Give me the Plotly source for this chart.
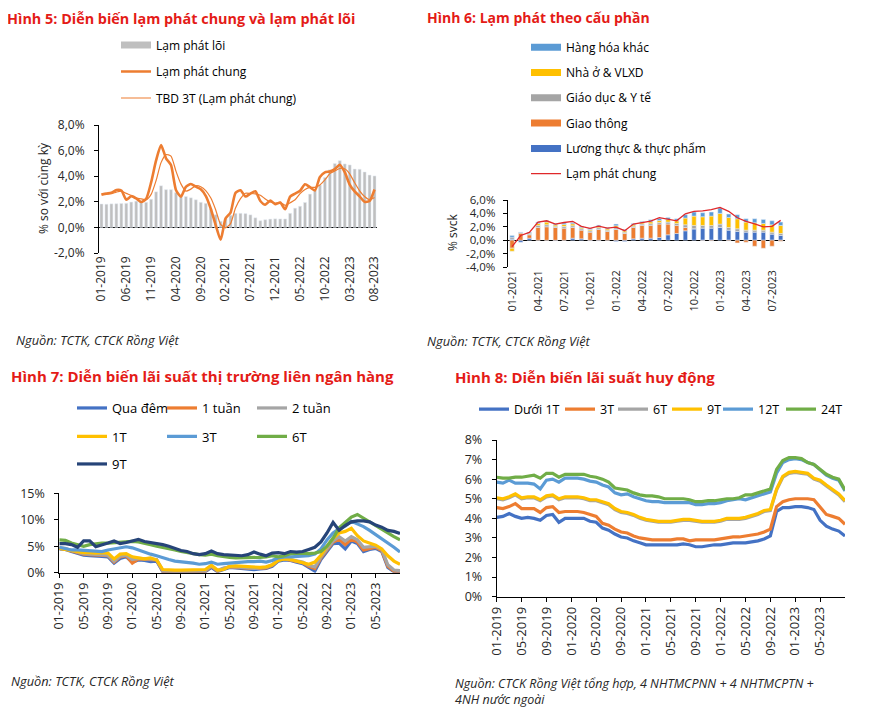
import plotly.graph_objects as go

W, H = 873, 718
OFF = 8  # the page body adds an 8px margin; positions below are screen pixels
def px(x): return (x - OFF) / W
def py(y): return 1 - (y - OFF) / H

def month_labels(y0, m0, n):
    out, y, m = [], y0, m0
    for _ in range(n):
        out.append(f"{m:02d}-{y}")
        m += 1
        if m > 12:
            m, y = 1, y + 1
    return out

# ---------------- Panel 1 data (01-2019 .. 08-2023) ----------------
months_p1 = month_labels(2019, 1, 56)
core_infl = [1.83,1.81,1.84,1.85,1.87,1.88,1.98,2.05,1.96,1.96,2.20,2.78,
             3.25,2.95,2.95,2.71,2.50,2.41,2.31,2.16,1.96,1.88,1.45,0.99,
             0.48,0.67,0.95,1.10,1.10,1.08,0.98,0.75,0.52,0.60,0.65,0.67,
             0.66,0.66,1.10,1.50,1.65,1.95,2.60,2.90,3.30,3.90,4.50,4.99,
             5.21,4.96,4.88,4.56,4.54,4.33,4.09,4.02]
headline = [2.56,2.64,2.70,2.93,2.88,2.16,2.44,2.26,1.98,2.24,3.52,5.23,
            6.43,5.40,4.87,2.93,2.40,3.17,3.39,3.18,2.98,2.47,1.48,0.19,
            -0.97,0.70,1.16,2.70,2.90,2.41,2.64,2.82,2.06,1.77,2.10,1.81,
            1.94,1.42,2.41,2.64,2.86,3.37,3.14,2.89,3.94,4.30,4.37,4.55,
            4.89,4.31,3.35,2.81,2.43,2.00,2.06,2.96]
headline_3m = [2.60,2.62,2.63,2.76,2.84,2.66,2.49,2.29,2.23,2.16,2.58,3.66,
               5.06,5.69,5.57,4.40,3.40,2.83,2.99,3.25,3.18,2.88,2.31,1.38,
               0.23,-0.03,0.30,1.52,2.25,2.67,2.65,2.62,2.51,2.22,1.98,1.89,
               1.95,1.72,1.92,2.16,2.64,2.96,3.12,3.13,3.32,3.71,4.20,4.41,
               4.60,4.58,4.18,3.49,2.86,2.41,2.16,2.34]
p1_ticks = months_p1[::5]
p1_yvals = [-2, 0, 2, 4, 6, 8]
p1_ytext = ["-2,0%", "0,0%", "2,0%", "4,0%", "6,0%", "8,0%"]

# ---------------- Panel 2 data (01-2021 .. 08-2023) ----------------
months_p2 = month_labels(2021, 1, 32)
food      = [0.15,-0.3,0.3,0.0,0.0,-0.1,0.0,0.3,0.2,-0.1,-0.1,0.0,-0.2,-0.2,0.2,0.3,
             0.3,0.4,0.8,1.0,1.4,1.7,1.8,1.8,1.9,1.5,1.3,1.2,1.2,1.2,0.9,0.7]
transport = [-1.2,1.1,0.5,1.9,2.0,1.9,1.8,1.6,1.3,1.2,1.6,1.3,1.6,1.0,1.7,1.9,
             1.9,2.0,1.6,1.2,0.5,0.0,-0.05,-0.1,0.0,-0.1,-0.4,-0.3,-0.9,-1.2,-0.9,-0.15]
edu_health = [0.3,0.0,0.15,0.3,0.3,0.2,0.25,0.25,0.2,0.2,0.25,0.2,0.25,0.2,0.2,0.2,
              0.25,0.25,0.3,0.3,0.4,0.5,0.4,0.4,0.5,0.4,0.4,0.3,0.3,0.3,0.3,0.3]
housing   = [-0.45,0.0,0.1,0.3,0.4,0.2,0.3,0.3,0.2,0.2,0.2,0.2,0.3,0.2,0.2,0.2,
             0.3,0.3,0.4,0.4,1.0,1.4,1.3,1.4,1.6,1.5,1.5,1.2,1.1,1.0,1.1,1.2]
other     = [0.25,0.1,0.15,0.2,0.2,0.2,0.2,0.2,0.2,0.2,0.2,0.2,0.25,0.2,0.2,0.2,
             0.3,0.3,0.3,0.3,0.5,0.6,0.6,0.6,0.8,0.5,0.6,0.5,0.6,0.6,0.6,0.5]
headline_p2 = [-0.97,0.70,1.16,2.70,2.90,2.41,2.64,2.82,2.06,1.77,2.10,1.81,
               1.94,1.42,2.41,2.64,2.86,3.37,3.14,2.89,3.94,4.30,4.37,4.55,
               4.89,4.31,3.35,2.81,2.43,2.00,2.06,2.96]
p2_ticks = months_p2[::3]
p2_yvals = [-4, -2, 0, 2, 4, 6]
p2_ytext = ["-4,0%", "-2,0%", "0,0%", "2,0%", "4,0%", "6,0%"]

# ---------------- Panel 3 data (01-2019 .. 09-2023) ----------------
months_p3 = month_labels(2019, 1, 57)
ib_on  = [4.5,4.4,4.0,3.6,3.3,3.2,3.2,3.1,3.0,1.8,2.7,3.0,2.0,2.4,2.3,2.1,2.2,0.2,0.2,0.2,
          0.2,0.2,0.2,0.2,0.2,1.0,0.2,0.6,1.0,0.9,0.8,0.7,0.6,0.7,0.8,1.2,2.2,2.4,2.3,2.0,
          1.7,1.0,0.3,2.5,4.0,5.5,5.6,4.5,6.0,5.5,4.0,4.4,4.6,4.0,1.0,0.2,0.2]
ib_1w  = [4.6,4.5,4.1,3.8,3.5,3.4,3.3,3.2,3.2,2.0,3.0,3.2,1.8,2.6,2.5,2.4,2.4,0.3,0.3,0.3,
          0.3,0.3,0.3,0.3,0.3,1.2,0.3,0.8,1.1,1.0,0.9,0.8,0.8,0.8,0.9,1.4,2.4,2.6,2.4,2.2,
          1.9,1.2,0.8,2.8,4.3,5.8,6.3,5.3,6.3,5.8,4.3,4.6,4.8,4.2,1.2,0.3,0.3]
ib_2w  = [4.7,4.6,4.2,3.9,3.6,3.5,3.4,3.3,3.3,2.2,3.1,3.3,2.5,2.7,2.6,2.5,2.5,0.4,0.3,0.3,
          0.3,0.3,0.3,0.3,0.4,1.3,0.4,0.9,1.1,1.1,1.0,0.9,0.8,0.9,1.0,1.5,2.5,2.7,2.5,2.3,
          2.0,1.4,1.1,3.0,4.6,6.0,6.8,6.0,6.8,6.2,4.8,4.9,5.0,4.4,1.5,0.5,0.4]
ib_1m  = [4.6,4.4,4.1,3.9,3.8,3.8,3.7,3.8,3.7,2.6,3.5,3.6,3.0,2.8,2.6,2.8,2.4,0.6,0.5,0.5,
          0.5,0.5,0.5,0.5,0.6,1.4,0.5,0.6,1.2,1.3,1.2,1.1,1.0,1.0,1.1,1.5,2.3,2.6,2.5,2.2,
          2.0,1.6,2.0,3.3,5.0,6.5,7.5,7.8,8.4,7.0,6.0,5.6,5.2,4.5,3.2,2.2,1.6]
ib_3m  = [4.8,4.6,4.3,4.3,4.2,4.2,4.1,4.0,4.3,4.5,4.8,4.9,4.7,4.3,3.8,3.5,3.2,2.8,2.5,2.2,
          2.1,1.9,1.8,1.6,1.7,2.0,1.6,1.7,1.8,2.0,2.0,2.1,2.1,2.2,2.0,2.3,2.8,3.0,3.0,3.1,
          3.1,3.2,3.5,4.5,6.2,7.5,8.3,8.8,9.7,9.2,8.7,8.0,7.2,6.5,5.7,4.8,3.9]
ib_6m  = [6.2,6.1,5.6,5.3,5.0,5.3,5.5,5.6,5.6,5.7,5.8,5.9,5.9,5.8,5.6,5.3,5.0,4.8,4.5,4.3,
          4.0,3.8,3.5,3.4,3.3,3.5,3.2,3.0,2.9,2.8,2.8,2.8,2.9,2.9,3.0,3.2,3.0,3.2,3.6,3.7,
          3.7,3.6,3.7,4.0,5.0,6.5,8.5,9.5,10.5,11.0,10.3,9.5,8.8,8.2,7.5,6.8,6.2]
ib_9m  = [5.5,5.5,5.3,4.8,6.0,6.0,4.9,5.2,5.6,6.0,5.5,5.7,6.0,6.3,5.9,5.7,5.6,5.3,5.0,4.6,
          4.2,4.0,3.6,3.4,3.6,4.1,3.6,3.4,3.3,3.2,3.2,3.4,3.9,3.5,3.2,3.7,3.8,3.6,4.0,3.9,
          4.0,4.4,4.8,5.8,7.5,9.5,8.0,8.9,9.6,9.8,9.8,9.6,9.0,8.6,8.0,7.8,7.4]
p3_ticks = months_p3[::4][:14]
p3_yvals = [0, 5, 10, 15]
p3_ytext = ["0%", "5%", "10%", "15%"]

# ---------------- Panel 4 data (01-2019 .. 09-2023) ----------------
months_p4 = month_labels(2019, 1, 57)
dep_u1m = [4.05,4.1,4.25,4.1,4.0,4.05,4.0,3.9,4.15,4.2,3.8,4.0,4.0,4.0,4.0,3.85,3.8,3.5,3.4,3.2,
           3.05,3.0,2.85,2.75,2.65,2.65,2.65,2.65,2.65,2.65,2.7,2.65,2.55,2.55,2.6,2.65,2.65,2.7,2.75,2.75,
           2.75,2.8,2.85,2.95,3.1,4.35,4.55,4.55,4.6,4.6,4.55,4.45,3.9,3.6,3.45,3.35,3.1]
dep_3m  = [4.55,4.5,4.6,4.75,4.5,4.5,4.5,4.3,4.55,4.6,4.3,4.35,4.35,4.35,4.3,4.2,4.1,3.75,3.65,3.45,
           3.3,3.25,3.1,3.0,2.95,2.9,2.9,2.9,2.9,2.95,2.95,2.85,2.9,2.9,2.9,2.9,2.95,3.0,3.05,3.05,
           3.1,3.15,3.2,3.3,3.45,4.6,4.85,4.95,5.0,5.0,5.0,4.95,4.55,4.2,4.1,4.0,3.7]
dep_6m  = [5.0,4.95,5.05,5.2,5.0,5.05,5.05,4.9,5.1,5.15,4.95,5.05,5.05,5.05,5.0,4.9,4.9,4.8,4.7,4.45,
           4.3,4.25,4.15,4.0,3.9,3.85,3.8,3.8,3.8,3.85,3.9,3.9,3.85,3.8,3.8,3.8,3.85,3.95,3.95,3.95,
           4.0,4.1,4.2,4.35,4.4,5.45,6.1,6.3,6.35,6.3,6.25,6.0,5.9,5.65,5.4,5.2,4.85]
dep_9m  = [5.05,5.0,5.1,5.25,5.05,5.1,5.1,4.95,5.15,5.2,5.0,5.1,5.1,5.1,5.05,4.95,4.95,4.85,4.75,4.5,
           4.35,4.3,4.2,4.05,3.95,3.9,3.85,3.85,3.85,3.9,3.95,3.95,3.9,3.85,3.85,3.85,3.9,4.0,4.0,4.0,
           4.05,4.15,4.25,4.4,4.45,5.5,6.15,6.35,6.4,6.35,6.3,6.05,5.95,5.7,5.45,5.25,4.9]
dep_12m = [5.85,5.8,5.95,5.8,5.8,5.8,5.75,5.5,5.95,6.0,5.85,6.05,6.05,6.05,6.0,5.9,5.85,5.7,5.6,5.3,
           5.2,5.25,5.1,5.0,4.9,4.85,4.85,4.8,4.8,4.8,4.8,4.8,4.7,4.7,4.75,4.75,4.8,4.9,4.95,5.0,
           4.95,5.05,5.15,5.25,5.35,6.3,6.85,7.0,7.05,7.0,6.85,6.75,6.45,6.2,6.05,5.95,5.4]
dep_24m = [6.1,6.05,6.05,6.1,6.1,6.15,6.2,6.05,6.3,6.3,6.1,6.25,6.25,6.25,6.25,6.15,6.1,6.0,5.85,5.55,
           5.5,5.45,5.3,5.2,5.15,5.15,5.1,5.0,5.0,5.0,5.0,4.95,4.85,4.85,4.9,4.9,4.95,5.0,5.0,5.05,
           5.2,5.2,5.3,5.4,5.5,6.5,6.95,7.1,7.1,7.05,6.85,6.75,6.5,6.25,6.1,6.0,5.45]
p4_ticks = months_p4[::4][:14]
p4_yvals = [0, 1, 2, 3, 4, 5, 6, 7, 8]
p4_ytext = [f"{v}%" for v in p4_yvals]

# ---------------- styles ----------------
FONT = "Open Sans"
TXT = "#262626"
RED = "#E41B17"
BLUE, ORANGE, GRAY, GOLD, LBLUE, GREEN, NAVY = ("#4472C4", "#ED7D31", "#A5A5A5",
                                                 "#FFC000", "#5B9BD5", "#70AD47", "#264478")

fig = go.Figure()

# Panel 1
fig.add_trace(go.Scatter(x=[None], y=[None], mode="lines", name="Lạm phát lõi",
                         line=dict(color="#BFBFBF", width=7), xaxis="x", yaxis="y",
                         legend="legend", legendgroup="a1", hoverinfo="skip"))
fig.add_trace(go.Bar(x=months_p1, y=core_infl, marker_color="#BFBFBF", width=0.6,
                     showlegend=False, xaxis="x", yaxis="y"))
fig.add_trace(go.Scatter(x=months_p1, y=headline, mode="lines", name="Lạm phát chung",
                         line=dict(color=ORANGE, width=2.6, shape="spline", smoothing=0.6),
                         xaxis="x", yaxis="y", legend="legend", legendgroup="a2"))
fig.add_trace(go.Scatter(x=months_p1, y=headline_3m, mode="lines", name="TBD 3T (Lạm phát chung)",
                         line=dict(color=ORANGE, width=1.2, shape="spline", smoothing=0.6),
                         xaxis="x", yaxis="y", legend="legend", legendgroup="a3"))

# Panel 2
p2_series = [("Hàng hóa khác", other, LBLUE), ("Nhà ở & VLXD", housing, GOLD),
             ("Giáo dục & Y tế", edu_health, GRAY), ("Giao thông", transport, ORANGE),
             ("Lương thực & thực phẩm", food, BLUE)]
for i, (nm, vals, col) in enumerate(p2_series):
    fig.add_trace(go.Scatter(x=[None], y=[None], mode="lines", name=nm,
                             line=dict(color=col, width=7), xaxis="x2", yaxis="y2",
                             legend="legend2", legendgroup=f"b{i}", hoverinfo="skip"))
for nm, vals, col in reversed(p2_series):
    fig.add_trace(go.Bar(x=months_p2, y=vals, name=nm, marker_color=col, width=0.5,
                         showlegend=False, xaxis="x2", yaxis="y2"))
fig.add_trace(go.Scatter(x=months_p2, y=headline_p2, mode="lines", name="Lạm phát chung",
                         line=dict(color="#E0282A", width=1.3), xaxis="x2", yaxis="y2",
                         legend="legend2", legendgroup="b9"))

# Panel 3
p3_series = [("Qua đêm", ib_on, BLUE, "legend3"), ("1 tuần", ib_1w, ORANGE, "legend3"),
             ("2 tuần", ib_2w, GRAY, "legend3"), ("1T", ib_1m, GOLD, "legend4"),
             ("3T", ib_3m, LBLUE, "legend4"), ("6T", ib_6m, GREEN, "legend4"),
             ("9T", ib_9m, NAVY, "legend5")]
for nm, vals, col, lg in p3_series:
    fig.add_trace(go.Scatter(x=months_p3, y=vals, mode="lines", name=nm,
                             line=dict(color=col, width=3.2), xaxis="x3", yaxis="y3",
                             legend=lg))

# Panel 4 (one legend per entry to reproduce the tight spacing)
p4_series = [("Dưới 1T", dep_u1m, BLUE), ("3T", dep_3m, ORANGE), ("6T", dep_6m, GRAY),
             ("9T", dep_9m, GOLD), ("12T", dep_12m, LBLUE), ("24T", dep_24m, GREEN)]
p4_legend_x = [479, 565, 618, 672, 723, 786]
for k, (nm, vals, col) in enumerate(p4_series):
    fig.add_trace(go.Scatter(x=months_p4, y=vals, mode="lines", name=nm,
                             line=dict(color=col, width=3.2), xaxis="x4", yaxis="y4",
                             legend=f"legend{6 + k}"))

def tf(size):
    return dict(family=FONT, size=size, color=TXT)

common_y = dict(showgrid=False, showline=True, linecolor="#000", linewidth=1,
                ticks="outside", ticklen=4, tickcolor="#000", tickfont=tf(12),
                zeroline=False, automargin=False, ticklabelstandoff=7)
common_x = dict(type="category", showgrid=False, tickangle=-90, tickfont=tf(12),
                zeroline=False, automargin=False)

def leg(x, y, size=12, orient="v", **kw):
    return dict(x=px(x), y=py(y), xanchor="left", yanchor="top", orientation=orient,
                bgcolor="rgba(0,0,0,0)", borderwidth=0,
                font=dict(family=FONT, size=size, color="#000"), itemwidth=30, **kw)

layout_extra = {}
for k, lx in enumerate(p4_legend_x):
    layout_extra[f"legend{6 + k}"] = leg(lx - 5, 394.5, 12.5, "h")

fig.update_layout(
    width=W, height=H, margin=dict(l=0, r=0, t=0, b=0, autoexpand=False),
    paper_bgcolor="white", plot_bgcolor="white", barmode="relative",
    font=dict(family=FONT, size=12, color=TXT), hovermode=False,
    xaxis=dict(common_x, domain=[px(99), px(377)], anchor="y", range=[-0.5, 55.5],
               tickmode="array", tickvals=p1_ticks, ticktext=p1_ticks, showline=False, ticks=""),
    yaxis=dict(common_y, domain=[py(253), py(125)], anchor="x", range=[-2, 8],
               tickvals=p1_yvals, ticktext=p1_ytext, zeroline=True, zerolinecolor="#000",
               zerolinewidth=1),
    xaxis2=dict(common_x, domain=[px(507.7), px(785)], anchor="y2", range=[-0.5, 31.5],
                tickmode="array", tickvals=p2_ticks, ticktext=p2_ticks, showline=False,
                ticks="", tickfont=tf(11)),
    yaxis2=dict(common_y, domain=[py(267), py(200)], anchor="x2", range=[-4, 6],
                tickvals=p2_yvals, ticktext=p2_ytext, zeroline=True, zerolinecolor="#000",
                zerolinewidth=1, tickfont=tf(11.5), ticklabelstandoff=5),
    xaxis3=dict(common_x, domain=[px(59.3), px(400)], anchor="y3", range=[0, 56],
                tickmode="array", tickvals=p3_ticks, ticktext=p3_ticks, showline=True,
                linecolor="#000", ticks="outside", ticklen=4, tickcolor="#000", tickfont=tf(12.5)),
    yaxis3=dict(common_y, domain=[py(572.7), py(493.3)], anchor="x3", range=[0, 15],
                tickvals=p3_yvals, ticktext=p3_ytext, tickfont=tf(12.5)),
    xaxis4=dict(common_x, domain=[px(496.7), px(845)], anchor="y4", range=[0, 56],
                tickmode="array", tickvals=p4_ticks, ticktext=p4_ticks, showline=True,
                linecolor="#000", ticks="outside", ticklen=4, tickcolor="#000", tickfont=tf(13)),
    yaxis4=dict(common_y, domain=[py(596.7), py(440)], anchor="x4", range=[0, 8],
                tickvals=p4_yvals, ticktext=p4_ytext, tickfont=tf(12.5)),
    legend=leg(116, 30.5, 12, "v", tracegroupgap=7.5),
    legend2=leg(526, 32.7, 12, "v", tracegroupgap=6.3),
    legend3=leg(72, 393, 13, "h", entrywidth=45),
    legend4=leg(72, 421.5, 13, "h", entrywidth=45),
    legend5=leg(72, 449, 13, "h", entrywidth=45),
    **layout_extra,
)

def note(x, y, text, size=12, color=TXT, italic=False, bold=False, angle=0, anchor="left"):
    fig.add_annotation(x=px(x), y=py(y), xref="paper", yref="paper", text=text,
                       showarrow=False, xanchor=anchor, yanchor="middle", textangle=angle,
                       align="left",
                       font=dict(family=FONT, size=size, color=color,
                                 style="italic" if italic else "normal",
                                 weight="bold" if bold else "normal"))

note(5, 18, "Hình 5: Diễn biến lạm phát chung và lạm phát lõi", 14.4, RED, bold=True)
note(425, 17, "Hình 6: Lạm phát theo cấu phần", 14, RED, bold=True)
note(9, 376, "Hình 7: Diễn biến lãi suất thị trường liên ngân hàng", 15, RED, bold=True)
note(453, 377, "Hình 8: Diễn biến lãi suất huy động", 15, RED, bold=True)

note(14, 340, "Nguồn: TCTK, CTCK Rồng Việt", 12.8, TXT, italic=True)
note(425, 341, "Nguồn: TCTK, CTCK Rồng Việt", 12.8, TXT, italic=True)
note(9, 681, "Nguồn: TCTK, CTCK Rồng Việt", 12.8, TXT, italic=True)
note(453, 691, "Nguồn: CTCK Rồng Việt tổng hợp, 4 NHTMCPNN + 4 NHTMCPTN +<br>4NH nước ngoài",
     12.5, TXT, italic=True)

note(43, 188, "% so với cùng kỳ", 12, TXT, angle=-90, anchor="center")
note(453, 232, "% svck", 12, TXT, angle=-90, anchor="center")

fig.write_html("out.html")
